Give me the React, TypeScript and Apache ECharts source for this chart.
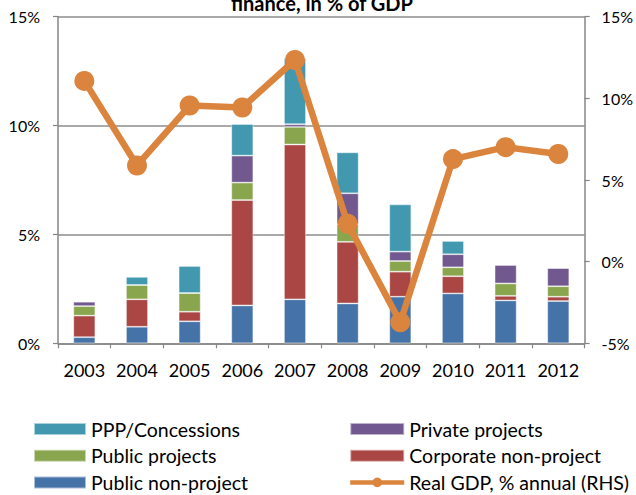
import React, { useEffect, useRef } from "react";
import * as echarts from "echarts";

const years = ["2003", "2004", "2005", "2006", "2007", "2008", "2009", "2010", "2011", "2012"];
const publicNonProject = [0.28, 0.76, 1.01, 1.74, 2.02, 1.83, 2.14, 2.29, 1.97, 1.94];
const corporateNonProject = [0.99, 1.26, 0.44, 4.84, 7.11, 2.83, 1.15, 0.79, 0.21, 0.2];
const publicProjects = [0.44, 0.66, 0.86, 0.8, 0.81, 0.81, 0.49, 0.41, 0.57, 0.48];
const privateProjects = [0.2, 0, 0, 1.24, 0.12, 1.42, 0.43, 0.6, 0.85, 0.84];
const pppConcessions = [0, 0.37, 1.24, 1.45, 3.03, 1.88, 2.17, 0.61, 0, 0];
const realGdp = [11.07, 5.89, 9.56, 9.44, 12.35, 2.32, -3.71, 6.28, 7.01, 6.59];

const FONT = "Lato";

export default function App() {
  const ref = useRef<HTMLDivElement>(null);
  useEffect(() => {
    if (!ref.current) return;
    const chart = echarts.init(ref.current, null, { renderer: "svg" });
    const barBase = {
      type: "bar",
      stack: "fin",
      barWidth: 22,
      yAxisIndex: 0,
    };
    const border = { borderColor: "rgba(255,255,255,0.55)", borderWidth: 0.8 };
    const legendText = { fontFamily: FONT, fontSize: 19.5, color: "#000", lineHeight: 20 };
    chart.setOption({
      animation: false,
      backgroundColor: "#ffffff",
      textStyle: { fontFamily: FONT },
      graphic: [
        {
          type: "text",
          x: 322,
          y: 3,
          style: {
            text: "finance, in % of GDP",
            fontFamily: FONT,
            fontWeight: "bold",
            fontSize: 20,
            fill: "#000",
            textAlign: "center",
            textVerticalAlign: "middle",
          },
        },
      ],
      grid: { left: 58, right: 46.5, top: 16.7, bottom: 151.7 },
      legend: [
        {
          orient: "vertical",
          left: 33,
          top: 419,
          padding: 0,
          itemWidth: 52,
          itemHeight: 12,
          itemGap: 6.7,
          icon: "rect",
          textStyle: legendText,
          data: ["PPP/Concessions", "Public projects", "Public non-project"],
        },
        {
          orient: "vertical",
          left: 348,
          top: 419,
          padding: 0,
          itemWidth: 54,
          itemHeight: 12,
          itemGap: 6.7,
          textStyle: legendText,
          data: [
            { name: "Private projects", icon: "rect" },
            { name: "Corporate non-project", icon: "rect" },
            { name: "Real GDP, % annual (RHS)", lineStyle: { width: 4.5 }, itemStyle: { color: "#DB843D" } },
          ],
        },
      ],
      xAxis: {
        type: "category",
        data: years,
        boundaryGap: true,
        axisLine: { lineStyle: { color: "#868686", width: 1.5 } },
        axisTick: { show: true, length: 5, lineStyle: { color: "#868686", width: 1.2 } },
        axisLabel: { fontFamily: FONT, fontSize: 18, color: "#000", margin: 18, interval: 0 },
      },
      yAxis: [
        {
          type: "value",
          min: 0,
          max: 15,
          interval: 5,
          axisLine: { show: true, lineStyle: { color: "#868686", width: 1.5 } },
          axisTick: { show: true, length: 5, lineStyle: { color: "#868686", width: 1.2 } },
          splitLine: { show: true, lineStyle: { color: "#8c8c8c", width: 1.5 } },
          axisLabel: {
            fontFamily: FONT,
            fontSize: 16,
            color: "#000",
            margin: 18,
            formatter: (v: number) => `${v}%`,
          },
        },
        {
          type: "value",
          min: -5,
          max: 15,
          interval: 5,
          position: "right",
          axisLine: { show: true, lineStyle: { color: "#868686", width: 1.5 } },
          axisTick: { show: true, length: 5, lineStyle: { color: "#868686", width: 1.2 } },
          splitLine: { show: false },
          axisLabel: {
            fontFamily: FONT,
            fontSize: 16,
            color: "#000",
            margin: 17,
            formatter: (v: number) => `${v}%`,
          },
        },
      ],
      series: [
        { ...barBase, name: "Public non-project", data: publicNonProject, itemStyle: { color: "#4572A7", ...border } },
        { ...barBase, name: "Corporate non-project", data: corporateNonProject, itemStyle: { color: "#AA4643", ...border } },
        { ...barBase, name: "Public projects", data: publicProjects, itemStyle: { color: "#89A54E", ...border } },
        { ...barBase, name: "Private projects", data: privateProjects, itemStyle: { color: "#71588F", ...border } },
        { ...barBase, name: "PPP/Concessions", data: pppConcessions, itemStyle: { color: "#4198AF", ...border } },
        {
          type: "line",
          name: "Real GDP, % annual (RHS)",
          yAxisIndex: 1,
          data: realGdp,
          symbol: "circle",
          symbolSize: 20,
          z: 5,
          lineStyle: { color: "#DB843D", width: 6.5 },
          itemStyle: { color: "#DB843D" },
        },
      ],
    });
    return () => chart.dispose();
  }, []);
  return (
    <div
      ref={ref}
      style={{ position: "absolute", left: 0, top: 0, width: 636, height: 495 }}
    />
  );
}
